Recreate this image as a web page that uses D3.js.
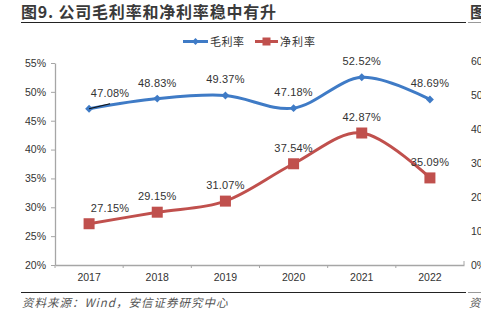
<!DOCTYPE html>
<html><head><meta charset="utf-8">
<script src="https://cdn.jsdelivr.net/npm/d3@7"></script>
<style>
html,body{margin:0;padding:0;background:#fff;overflow:hidden;}
svg{display:block;}
</style></head>
<body>
<svg id="c" width="481" height="323"></svg>
<script>
const title = "图9. 公司毛利率和净利率稳中有升";
const source = "资料来源：Wind，安信证券研究中心";
const years = ["2017","2018","2019","2020","2021","2022"];
const seriesNames = ["毛利率","净利率"];
const grossMargin = [47.08, 48.83, 49.37, 47.18, 52.52, 48.69];
const netMargin = [27.15, 29.15, 31.07, 37.54, 42.87, 35.09];
const yTicks = [20,25,30,35,40,45,50,55];
const nextChartTicks = ["60%","50%","40%","30%","20%","10%","0%"];

const svg = d3.select("#c");
const cjk = "'Noto Sans CJK SC','Noto Sans',sans-serif";
const latin = "'Liberation Sans',Arial,sans-serif";
const blue = "#3F7BC6", red = "#C0504D", axisC = "#A6A6A6", txt = "#333";

// title
svg.append("text").attr("x",21).attr("y",18).text(title)
  .attr("font-family",cjk).attr("font-size",16).attr("font-weight","bold").attr("fill","#3a3a3a").attr("letter-spacing",0.8);
svg.append("text").attr("x",470).attr("y",18).text("图")
  .attr("font-family",cjk).attr("font-size",16).attr("font-weight","bold").attr("fill","#3a3a3a");
svg.append("line").attr("x1",21).attr("x2",466).attr("y1",22.5).attr("y2",22.5).attr("stroke","#222").attr("stroke-width",1.2);
svg.append("line").attr("x1",468).attr("x2",481).attr("y1",22.5).attr("y2",22.5).attr("stroke","#999").attr("stroke-width",1);

// scales
const x = d3.scaleBand().domain(years).range([55,464]);
const y = d3.scaleLinear().domain([20,55]).range([265,63]);

// y axis
const yAxis = svg.append("g").attr("transform","translate(55,0)")
  .call(d3.axisLeft(y).tickValues(yTicks).tickFormat(d=>d+"%").tickSize(4).tickSizeOuter(0));
yAxis.select(".domain").attr("stroke",axisC).attr("stroke-width",1.3);
yAxis.selectAll(".tick line").attr("stroke",axisC);
yAxis.selectAll(".tick text").attr("font-family",latin).attr("font-size",10.5).attr("fill",txt).attr("x",-9);

// x axis
const xAxis = svg.append("g").attr("transform","translate(0,265)")
  .call(d3.axisBottom(x).tickSize(0).tickSizeOuter(0));
xAxis.select(".domain").attr("stroke",axisC).attr("stroke-width",1.3);
xAxis.selectAll(".tick text").attr("font-family",latin).attr("font-size",10.5).attr("fill",txt).attr("dy","1.1em").attr("y",4);
// boundary ticks
const bounds = years.map(d=>x(d)).concat([x.range()[1]]);
svg.append("g").selectAll("line").data(bounds).join("line")
  .attr("x1",d=>d).attr("x2",d=>d).attr("y1",265).attr("y2",d=>d===x.range()[1]?261:268)
  .attr("stroke",axisC).attr("stroke-width",1);

const cx = d => x(d) + x.bandwidth()/2;
const line = d3.line().x((d,i)=>cx(years[i])).y(d=>y(d)).curve(d3.curveCardinal.tension(0));

// lines
svg.append("path").attr("d",line(grossMargin)).attr("fill","none").attr("stroke",blue).attr("stroke-width",3);
svg.append("path").attr("d",line(netMargin)).attr("fill","none").attr("stroke",red).attr("stroke-width",3);

// markers
svg.append("g").selectAll("path").data(grossMargin).join("path")
  .attr("d",d3.symbol().type(d3.symbolDiamond2).size(40))
  .attr("transform",(d,i)=>`translate(${cx(years[i])},${y(d)})`).attr("fill",blue);
svg.append("g").selectAll("rect").data(netMargin).join("rect")
  .attr("x",(d,i)=>cx(years[i])-5.5).attr("y",d=>y(d)-5.5).attr("width",11).attr("height",11).attr("fill",red);

// data labels
function labels(vals, dyOff){
  const g = svg.append("g");
  g.selectAll("text").data(vals).join("text")
    .attr("x",(d,i)=>cx(years[i]) + (i===0?21:0))
    .attr("y",(d,i)=>y(d) - dyOff)
    .attr("text-anchor","middle")
    .attr("font-family",latin).attr("font-size",11).attr("fill",txt).attr("letter-spacing",0.2)
    .text(d=>d.toFixed(2)+"%");
}
labels(grossMargin, 12);
labels(netMargin, 12);
// leader line for first gross label
svg.append("line").attr("x1",cx(years[0])).attr("y1",y(grossMargin[0]))
  .attr("x2",cx(years[0])+21).attr("y2",y(grossMargin[0])-5).attr("stroke","#111").attr("stroke-width",1.2);

// legend
const lg = svg.append("g");
lg.append("line").attr("x1",183).attr("x2",208).attr("y1",41.5).attr("y2",41.5).attr("stroke",blue).attr("stroke-width",3);
lg.append("path").attr("d",d3.symbol().type(d3.symbolDiamond2).size(30)).attr("transform","translate(195.5,41.5)").attr("fill",blue);
lg.append("text").attr("x",210).attr("y",45.5).text(seriesNames[0]).attr("font-family",cjk).attr("font-size",11).attr("letter-spacing",0.5).attr("fill",txt);
lg.append("line").attr("x1",255).attr("x2",278).attr("y1",41.5).attr("y2",41.5).attr("stroke",red).attr("stroke-width",3);
lg.append("rect").attr("x",262.5).attr("y",37.5).attr("width",8).attr("height",8).attr("fill",red);
lg.append("text").attr("x",280).attr("y",45.5).text(seriesNames[1]).attr("font-family",cjk).attr("font-size",11).attr("letter-spacing",1).attr("fill",txt);

// next chart partial axis labels (cut by page edge, as in the reference)
const y2 = d3.scaleLinear().domain([0,6]).range([265,61]);
svg.append("g").selectAll("text").data(nextChartTicks).join("text")
  .attr("x",471).attr("y",(d,i)=>y2(6-i)+4).text(d=>d)
  .attr("font-family",latin).attr("font-size",10.5).attr("fill",txt);

// bottom rule and source
svg.append("line").attr("x1",21).attr("x2",466).attr("y1",292.5).attr("y2",292.5).attr("stroke","#222").attr("stroke-width",1.2);
svg.append("line").attr("x1",468).attr("x2",481).attr("y1",292.5).attr("y2",292.5).attr("stroke","#999").attr("stroke-width",1);
svg.append("text").attr("x",22).attr("y",307).text(source)
  .attr("font-family",cjk).attr("font-size",11.5).attr("font-style","italic").attr("fill","#555").attr("letter-spacing",1);
svg.append("text").attr("x",469).attr("y",307).text("资")
  .attr("font-family",cjk).attr("font-size",11.5).attr("font-style","italic").attr("fill","#555");
</script>
</body></html>
